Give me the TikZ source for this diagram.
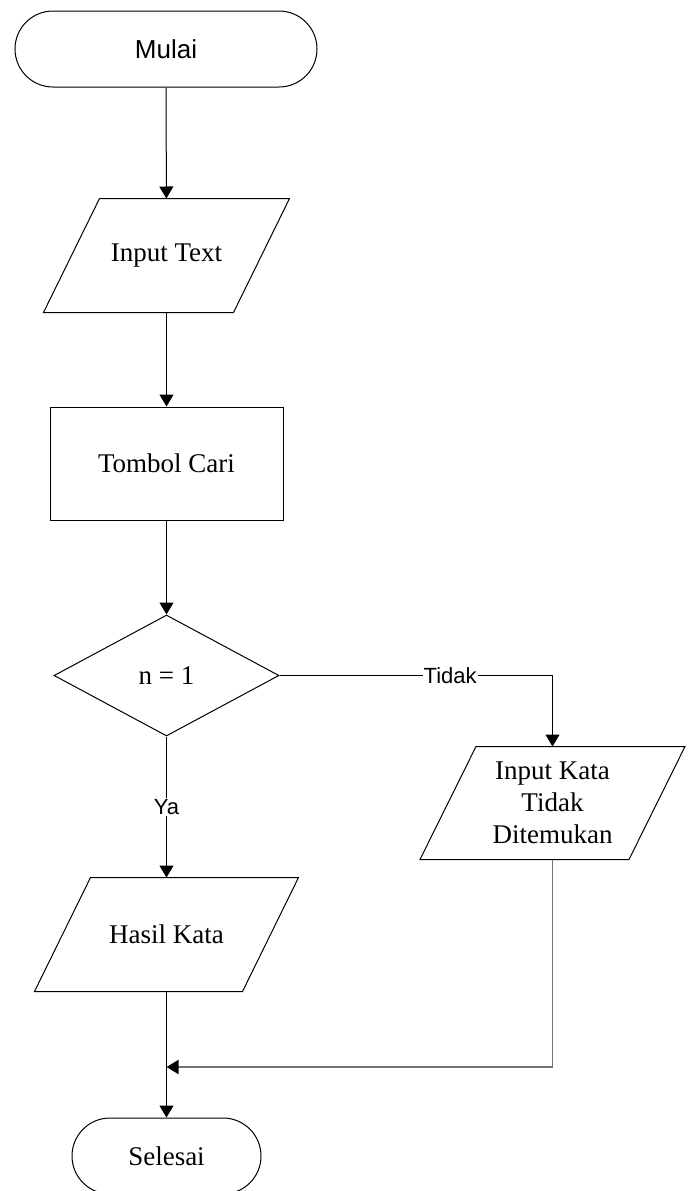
\documentclass[tikz,border=0pt]{standalone}
\usepackage{fontspec}
\setmainfont{Liberation Serif}
\newfontfamily\arialfont{Liberation Sans}
\usetikzlibrary{shapes.geometric,arrows.meta}
\begin{document}
\begin{tikzpicture}[x=1pt,y=-1pt,
  base/.style={draw=black,line width=1pt,inner sep=0pt,font=\fontsize{27}{32}\selectfont,align=center},
  terminal/.style={base,rectangle,rounded corners=#1},
  io/.style={base,draw=none,rectangle,minimum height=113pt},
  paraline/.style={line width=1pt,line join=miter},
  process/.style={base,rectangle},
  decision/.style={base,diamond},
  conn/.style={line width=1pt,-{Triangle[length=12pt,width=14pt]}},
  lbl/.style={fill=white,inner sep=1pt,font=\arialfont\fontsize{22}{26}\selectfont}]
\useasboundingbox (0,0) rectangle (690,1191);
\clip (0,0) rectangle (690,1191);
\node[terminal=38pt,minimum width=302pt,minimum height=76pt,font=\arialfont\fontsize{26}{32}\selectfont] (mulai) at (166,49) {Mulai};
\node[io,minimum width=189pt] (input) at (166.5,255.5) {Input Text};
\node[process,minimum width=233pt,minimum height=113pt] (tombol) at (166.5,463.5) {Tombol Cari};
\node[decision,minimum width=225pt,minimum height=121pt] (dec) at (166.5,675.5) {n = 1};
\node[io,minimum width=207pt] (hasil) at (166.5,934.5) {Hasil Kata};
\node[io,minimum width=208pt,minimum height=112pt] (kata) at (552.5,803) {Input Kata\\Tidak\\Ditemukan};
\node[terminal=38pt,minimum width=189pt,minimum height=76pt] (selesai) at (166.5,1156) {Selesai};
\foreach \n in {input,hasil,kata}
  \draw[paraline] ([xshift=28pt]\n.north west) -- ([xshift=28pt]\n.north east)
     -- ([xshift=-28pt]\n.south east) -- ([xshift=-28pt]\n.south west) -- cycle;
\coordinate (m) at (166.5,1067);
\draw[conn] (mulai) -- (input);
\draw[conn] (input) -- (tombol);
\draw[conn] (tombol) -- (dec);
\draw[conn] (dec.east) -| node[lbl,pos=0.3125] {Tidak} (kata.north);
\draw[conn] (dec.south) -- node[lbl] {Ya} (hasil.north);
\draw[conn] (hasil.south) -- (selesai.north);
\draw[line width=1.6pt,draw=black!55,-{Triangle[length=12pt,width=14pt,color=black]}] (kata.south) |- (m);
\end{tikzpicture}
\end{document}
